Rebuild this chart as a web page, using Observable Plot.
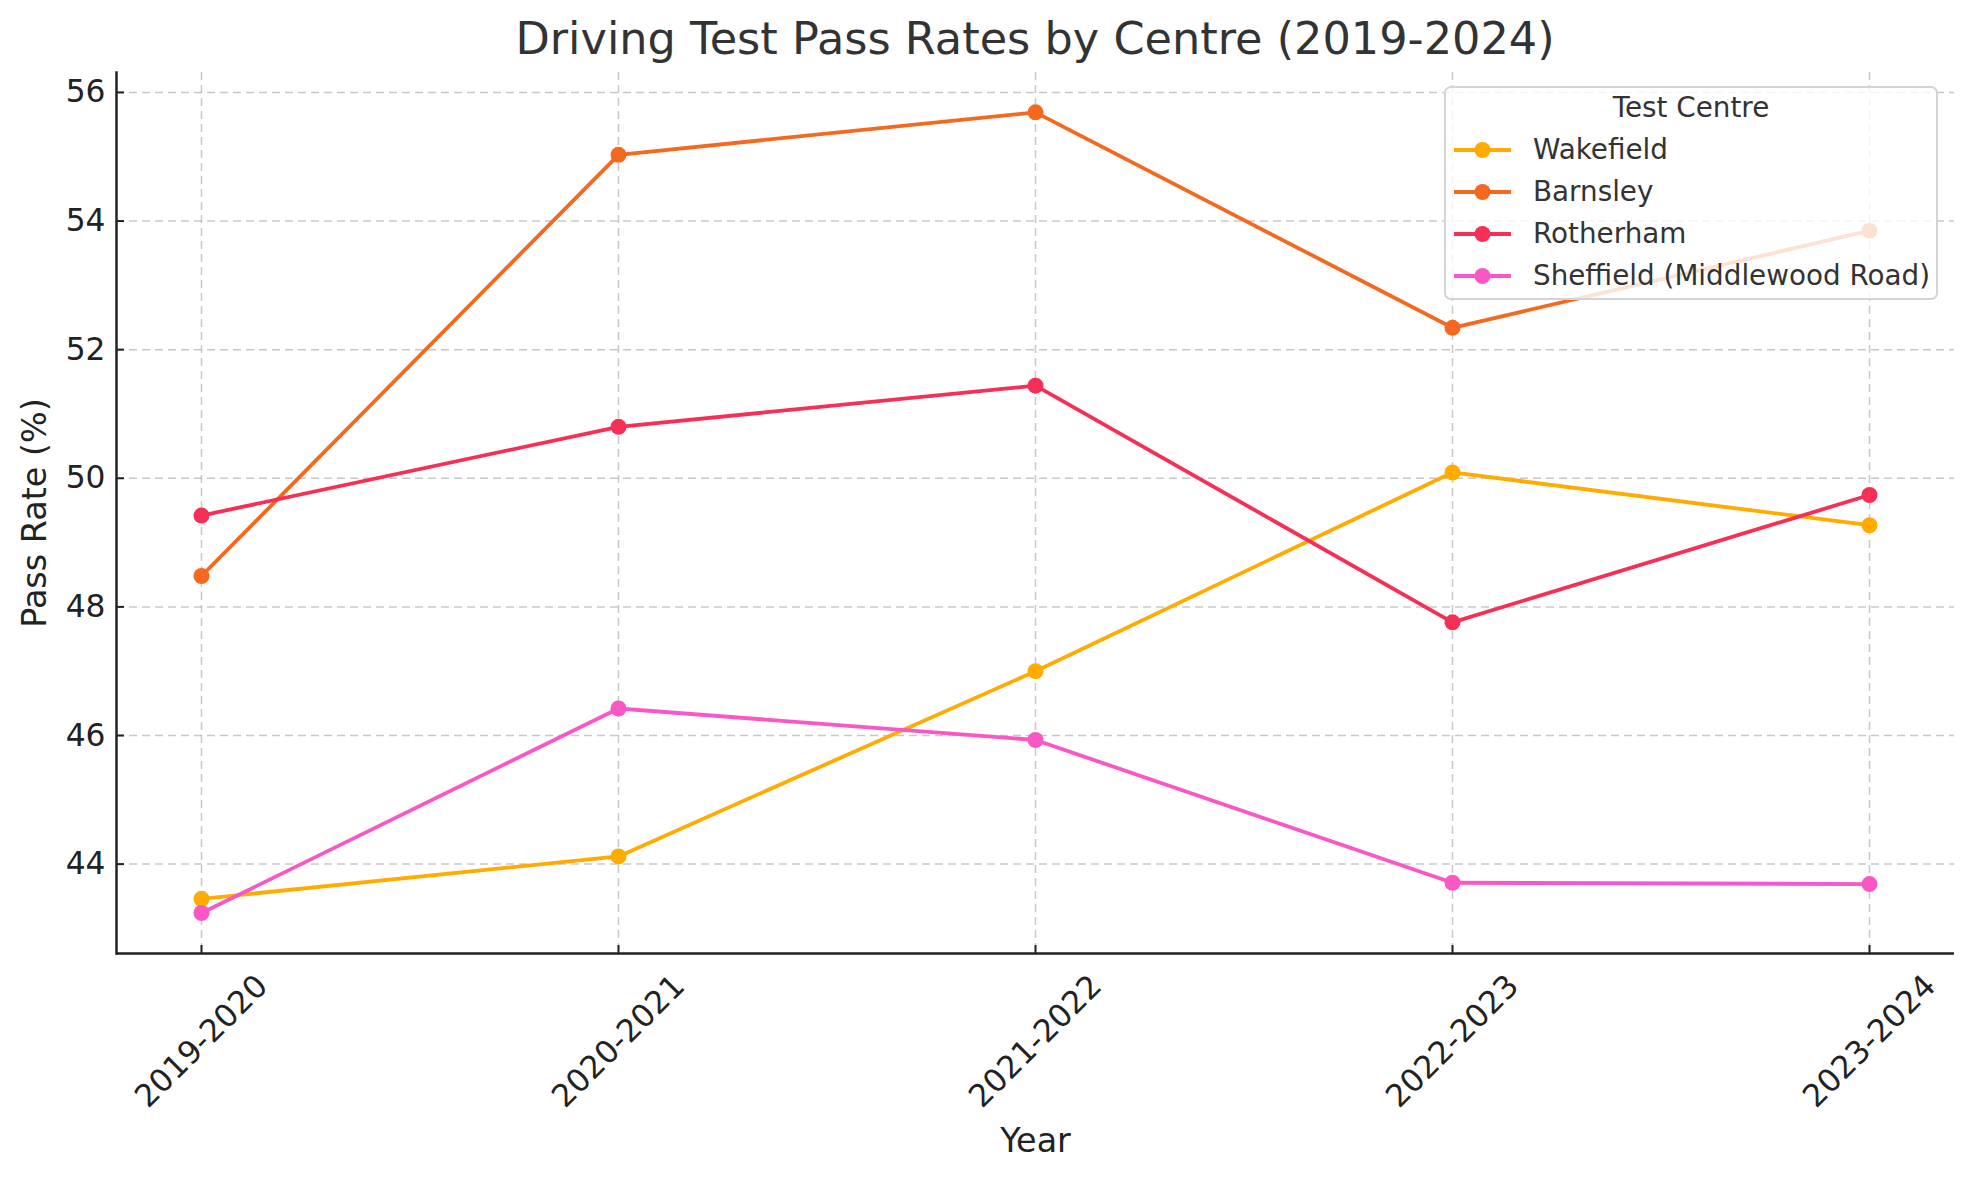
<!DOCTYPE html>
<html>
<head>
<meta charset="utf-8">
<script src="https://cdn.jsdelivr.net/npm/d3@7"></script>
<script src="https://cdn.jsdelivr.net/npm/@observablehq/plot@0.6"></script>
<style>
  html, body { margin: 0; padding: 0; background: #fff; }
  #wrap { position: relative; width: 1974px; height: 1180px; font-family: "DejaVu Sans", sans-serif; overflow: hidden; }
  #title { position: absolute; left: 116px; width: 1838px; top: 11px; height: 56px; text-align: center; font-size: 44.6px; line-height: 56px; color: #333; }
  #chart { position: absolute; left: 0; top: 60px; }
  #legend { position: absolute; left: 1444px; top: 86px; width: 494px; height: 214px; box-sizing: border-box;
    border: 2px solid #d4d4d4; border-radius: 7px; background: rgba(255,255,255,0.8); color: #333; font-size: 27.8px; }
  #legend .lt { position: absolute; left: 0; right: 0; top: 4px; text-align: center; line-height: 32px; }
  #legend .row { position: absolute; left: 8px; height: 40px; line-height: 40px; }
  #legend svg { position: absolute; left: 0; top: 0; }
  #legend .lab { position: absolute; left: 79px; white-space: nowrap; }
</style>
</head>
<body>
<div id="wrap">
  <div id="title">Driving Test Pass Rates by Centre (2019-2024)</div>
  <div id="chart"></div>
  <div id="legend"></div>
</div>
<script>
const years = ["2019-2020", "2020-2021", "2021-2022", "2022-2023", "2023-2024"];
const centres = ["Wakefield", "Barnsley", "Rotherham", "Sheffield (Middlewood Road)"];
const colors = ["#ffab00", "#f3691f", "#f52f56", "#fa57c6"];
const wakefield = [43.46, 44.12, 47.00, 50.09, 49.27];
const barnsley  = [48.48, 55.03, 55.69, 52.34, 53.85];
const rotherham = [49.42, 50.80, 51.44, 47.76, 49.74];
const sheffield = [43.24, 46.42, 45.93, 43.71, 43.69];
const yTicks = [44, 46, 48, 50, 52, 54, 56];
const yDomain = [42.61, 56.31];

const series = [wakefield, barnsley, rotherham, sheffield];
const data = [];
series.forEach((vals, si) => vals.forEach((v, i) => data.push({centre: centres[si], year: years[i], rate: v})));

const font = "DejaVu Sans, sans-serif";
const grid = {stroke: "#b0b0b0", strokeOpacity: 0.7, strokeWidth: 1.5, strokeDasharray: "8,5"};
const plot = Plot.plot({
  width: 1974,
  height: 1120,
  marginTop: 12,
  marginBottom: 227,
  marginLeft: 116,
  marginRight: 20,
  style: {fontFamily: font, background: "transparent", color: "#222"},
  x: {type: "point", domain: years, padding: 0.2, axis: null},
  y: {domain: yDomain, axis: null},
  color: {domain: centres, range: colors},
  marks: [
    Plot.gridY(yTicks, grid),
    Plot.gridX(years, grid),
    Plot.axisY({ticks: yTicks, tickSize: -8, tickPadding: 19, fontSize: 31.3, label: null, fill: "#222", stroke: "#222", strokeWidth: 2}),
    Plot.axisX({ticks: years, tickSize: -8, tickFormat: () => "", label: null, stroke: "#222", strokeWidth: 2}),
    Plot.text(years, {x: d => d, frameAnchor: "bottom", dy: 88, rotate: -45, fontSize: 31.5, fill: "#222", textAnchor: "middle", lineAnchor: "middle"}),
    Plot.text(["Pass Rate (%)"], {frameAnchor: "left", dx: -81, rotate: -90, fontSize: 33.4, fill: "#222", textAnchor: "middle", lineAnchor: "middle"}),
    Plot.text(["Year"], {frameAnchor: "bottom", dy: 188, fontSize: 33.4, fill: "#222", textAnchor: "middle", lineAnchor: "middle"}),
    Plot.line(data, {x: "year", y: "rate", z: "centre", stroke: "centre", strokeWidth: 3.8}),
    Plot.dot(data, {x: "year", y: "rate", fill: "centre", r: 8}),
    Plot.ruleY([yDomain[0]], {stroke: "#222", strokeWidth: 2.5}),
    Plot.frame({anchor: "left", stroke: "#222", strokeWidth: 2.5})
  ]
});
document.getElementById("chart").appendChild(plot);

// legend
const lg = document.getElementById("legend");
const lt = document.createElement("div");
lt.className = "lt"; lt.textContent = "Test Centre";
lg.appendChild(lt);
centres.forEach((c, i) => {
  const row = document.createElement("div");
  row.className = "row";
  row.style.top = (42 + i * 42) + "px";
  row.style.width = "480px";
  row.innerHTML = `<svg width="70" height="40"><line x1="0" x2="57" y1="20" y2="20" stroke="${colors[i]}" stroke-width="3.8"/><circle cx="28.5" cy="20" r="8" fill="${colors[i]}"/></svg><span class="lab">${c}</span>`;
  lg.appendChild(row);
});
</script>
</body>
</html>
